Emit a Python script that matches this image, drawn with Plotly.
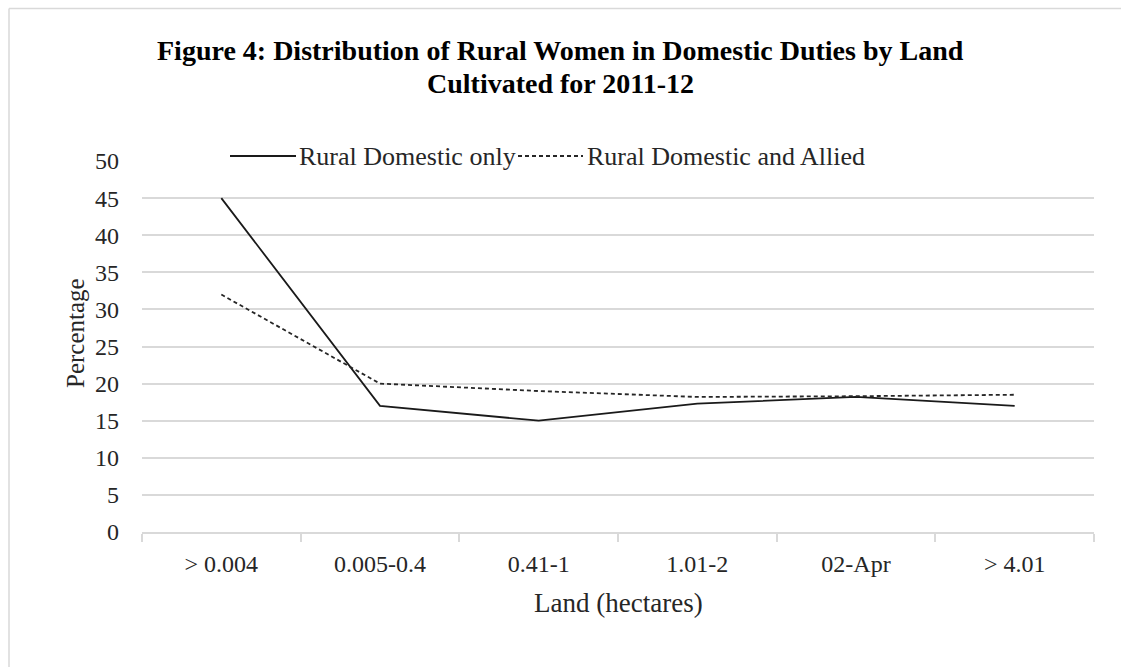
import plotly.graph_objects as go

# Land cultivated classes (hectares)
land_classes = ["> 0.004", "0.005-0.4", "0.41-1", "1.01-2", "02-Apr", "> 4.01"]

# Share of rural women in domestic duties (%)
domestic_only = [45, 17, 15, 17.3, 18.2, 17]
domestic_and_allied = [32, 20, 19, 18.2, 18.3, 18.5]

y_ticks = [0, 5, 10, 15, 20, 25, 30, 35, 40, 45, 50]

title_lines = ["Figure 4: Distribution of Rural Women in Domestic Duties by Land",
               "Cultivated for 2011-12"]

W, H = 1121, 667
L, R, T, B = 142, 27, 161, 135
PW, PH = W - L - R, H - T - B

FONT = "Liberation Serif"
GRID = "#d9d9d9"
TEXT = "#262626"


def px_x(x):
    return (x - L) / PW


def px_y(y):
    return (H - B - y) / PH


fig = go.Figure()
fig.add_trace(go.Scatter(
    x=land_classes, y=domestic_only, mode="lines", name="Rural Domestic only",
    line=dict(color="#1a1a1a", width=1.8), showlegend=False,
))
fig.add_trace(go.Scatter(
    x=land_classes, y=domestic_and_allied, mode="lines", name="Rural Domestic and Allied",
    line=dict(color="#262626", width=1.8, dash="4px,3px"), showlegend=False,
))

# Chart area border (left and top edges)
fig.add_shape(type="line", xref="paper", yref="paper",
              x0=px_x(9), x1=px_x(9), y0=px_y(8.5), y1=px_y(667),
              line=dict(color=GRID, width=1.5), layer="below")
fig.add_shape(type="line", xref="paper", yref="paper",
              x0=px_x(9), x1=px_x(1121), y0=px_y(8.5), y1=px_y(8.5),
              line=dict(color=GRID, width=1.5), layer="below")

# Legend drawn across the top of the plot
leg_y = 156
fig.add_shape(type="line", xref="paper", yref="paper",
              x0=px_x(230), x1=px_x(296), y0=px_y(leg_y), y1=px_y(leg_y),
              line=dict(color="#1a1a1a", width=1.8))
fig.add_shape(type="line", xref="paper", yref="paper",
              x0=px_x(518), x1=px_x(583), y0=px_y(leg_y), y1=px_y(leg_y),
              line=dict(color="#262626", width=1.8, dash="4px,3px"))

annotations = [
    dict(text="Rural Domestic only", x=px_x(297), y=px_y(leg_y), xanchor="left",
         yanchor="middle", size=26),
    dict(text="Rural Domestic and Allied", x=px_x(585), y=px_y(leg_y), xanchor="left",
         yanchor="middle", size=26),
    dict(text="Percentage", x=px_x(75), y=px_y(333), xanchor="center", yanchor="middle",
         textangle=-90, size=25),
    dict(text="Land (hectares)", x=px_x(618), y=px_y(603), xanchor="center",
         yanchor="middle", size=27),
]
for a in annotations:
    size = a.pop("size")
    fig.add_annotation(xref="paper", yref="paper", showarrow=False,
                       font=dict(family=FONT, size=size, color=TEXT), **a)

# Two-line bold title
for line, ypx in zip(title_lines, [51, 83]):
    fig.add_annotation(xref="paper", yref="paper", showarrow=False,
                       text=line, x=px_x(560), y=px_y(ypx),
                       xanchor="center", yanchor="middle",
                       font=dict(family=FONT, size=28, color="#000000", weight="bold"))

fig.update_layout(
    width=W, height=H,
    margin=dict(l=L, r=R, t=T, b=B, autoexpand=False),
    paper_bgcolor="white", plot_bgcolor="white",
    font=dict(family=FONT, size=22, color=TEXT),
)
fig.update_xaxes(
    type="category", categoryorder="array", categoryarray=land_classes,
    range=[-0.5, len(land_classes) - 0.5],
    showgrid=False, showline=True, linecolor=GRID, linewidth=1.5,
    ticks="outside", tickson="boundaries", ticklen=8, tickcolor=GRID, tickwidth=1.5,
    ticklabelstandoff=9, tickfont=dict(family=FONT, size=24, color=TEXT),
    zeroline=False,
)
fig.update_yaxes(
    range=[0, 50], tickvals=y_ticks, showgrid=True, gridcolor=GRID, gridwidth=1.5,
    showline=False, zeroline=False, ticks="",
    ticklabelstandoff=22, tickfont=dict(family=FONT, size=24, color=TEXT),
)

fig.write_html("out.html")
